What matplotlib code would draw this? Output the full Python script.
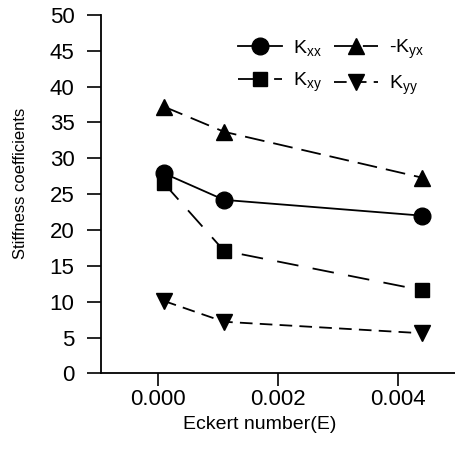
import matplotlib
matplotlib.use("Agg")
import matplotlib.pyplot as plt

plt.rcParams['font.family'] = ['Liberation Sans', 'DejaVu Sans']

eckert = [0.0001, 0.0011, 0.0044]
kxx = [27.9, 24.2, 22.0]
neg_kyx = [37.2, 33.7, 27.3]
kxy = [26.5, 17.1, 11.6]
kyy = [10.1, 7.2, 5.6]
xticks = [0.000, 0.002, 0.004]
xtick_labels = ["0.000", "0.002", "0.004"]
yticks = list(range(0, 51, 5))

fig = plt.figure(figsize=(4.55, 4.65), dpi=100)
ax = fig.add_axes([0.222, 0.197, 0.778, 0.771])

lw = 1.3
h1, = ax.plot(eckert, kxx, color='black', lw=lw, marker='o', ms=12, label=r'$\mathregular{K_{xx}}$')
h2, = ax.plot(eckert, neg_kyx, color='black', lw=lw, marker='^', ms=12, dashes=(11, 5), label=r'-$\mathregular{K_{yx}}$')
h3, = ax.plot(eckert, kxy, color='black', lw=lw, marker='s', ms=10.5, dashes=(12, 8), label=r'$\mathregular{K_{xy}}$')
h4, = ax.plot(eckert, kyy, color='black', lw=lw, marker='v', ms=12, dashes=(7, 4), label=r'$\mathregular{K_{yy}}$')

ax.set_xlim(-0.00095, 0.00495)
ax.set_ylim(0, 50)
ax.set_xticks(xticks)
ax.set_xticklabels(xtick_labels)
ax.set_yticks(yticks)
ax.spines['top'].set_visible(False)
ax.spines['right'].set_visible(False)
ax.spines['left'].set_linewidth(1.3)
ax.spines['bottom'].set_linewidth(1.3)
ax.tick_params(axis='both', direction='out', width=1.2, labelsize=16)
ax.tick_params(axis='y', length=10, pad=9)
ax.tick_params(axis='x', length=9.5, pad=2)

ax.set_xlabel('Eckert number(E)', fontsize=14)
ax.xaxis.set_label_coords(0.449, -0.119)
ax.set_ylabel('Stiffness coefficients', fontsize=12)
ax.yaxis.set_label_coords(-0.205, 0.531)

leg = fig.legend(handles=[h1, h3, h2, h4], ncol=2, frameon=False, loc='upper left',
                 bbox_to_anchor=(238 / 455, 1 - 38 / 465), fontsize=14, handlelength=2.27,
                 columnspacing=0.62, handletextpad=0.57, labelspacing=0.65, borderpad=0,
                 borderaxespad=0)

fig.savefig('out.png', dpi=100)
